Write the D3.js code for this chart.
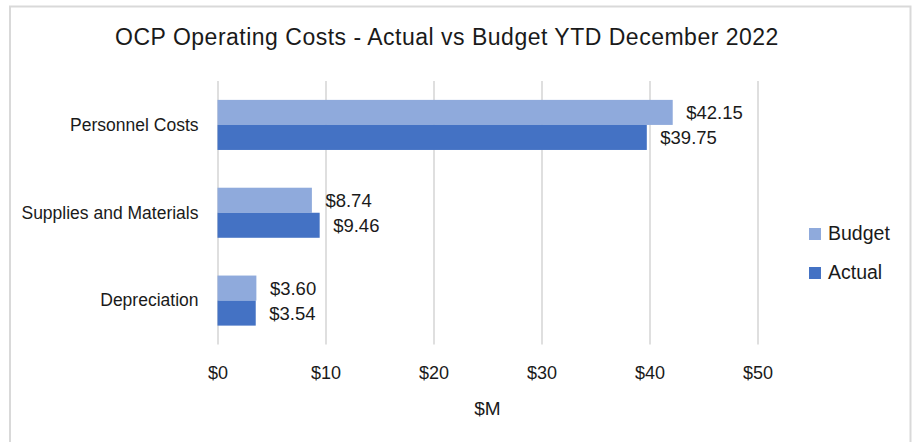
<!DOCTYPE html>
<html>
<head>
<meta charset="utf-8">
<script src="https://cdn.jsdelivr.net/npm/d3@7"></script>
<style>
	body { margin: 0; background: #fff; }
	text { font-family: "Liberation Sans", Arial, Helvetica, sans-serif; fill: #1a1a1a; }
</style>
</head>
<body>
<div id="chart"></div>
<script>
var categories = ["Personnel Costs", "Supplies and Materials", "Depreciation"];
var series = ["Budget", "Actual"];
var budget = [42.15, 8.74, 3.60];
var actual = [39.75, 9.46, 3.54];
var ticks = [0, 10, 20, 30, 40, 50];
var colors = ["#8faadc", "#4472c4"];

var W = 915, H = 442;
var margin = {left: 217.5, right: 157.5, top: 81, bottom: 97.5};
var width = W - margin.left - margin.right,
	height = H - margin.top - margin.bottom;

var svg = d3.select("#chart")
	.append("svg")
	.attr("width", W)
	.attr("height", H)
;

/*
	Outer frame (no bottom edge in the reference)
*/
svg.append("path")
	.attr("d", "M10,442V6.5H910.5V442")
	.attr("fill", "none")
	.attr("stroke", "#d9d9d9")
	.attr("stroke-width", 2)
;

svg.append("text")
	.attr("x", 447)
	.attr("y", 45)
	.attr("text-anchor", "middle")
	.style("font-size", "23px")
	.style("letter-spacing", "0.5px")
	.text("OCP Operating Costs - Actual vs Budget YTD December 2022")
;

var xScale = d3.scaleLinear()
	.domain([0, 50])
	.range([0, width])
;

var yScale = d3.scaleBand()
	.domain(categories)
	.range([0, height])
	.paddingInner(0.43)
	.paddingOuter(0.215)
;

var inner = d3.scaleBand()
	.domain(series)
	.range([0, yScale.bandwidth()])
;

var plot = svg.append("g")
	.attr("transform", "translate(" + margin.left + "," + margin.top + ")")
;

var xAxis = plot.append("g")
	.attr("transform", "translate(0," + height + ")")
	.call(d3.axisBottom(xScale)
		.tickValues(ticks)
		.tickSize(-height)
		.tickPadding(22)
		.tickFormat(function(d) { return "$" + d; }))
;
xAxis.select(".domain").remove();
xAxis.selectAll("line")
	.attr("stroke", "#dcdcdc")
	.attr("stroke-width", 1.8)
;
xAxis.selectAll("text")
	.attr("fill", "#1a1a1a")
	.style("font-size", "18px")
	.style("font-family", "'Liberation Sans', Arial, sans-serif")
;

var rows = categories.map(function(c, i) {
	return {cat: c, values: [{s: "Budget", v: budget[i]}, {s: "Actual", v: actual[i]}]};
});

var groups = plot.selectAll("g.cat")
	.data(rows)
	.enter()
	.append("g")
	.attr("class", "cat")
	.attr("transform", function(d) { return "translate(0," + yScale(d.cat) + ")"; })
;

groups.selectAll("rect")
	.data(function(d) { return d.values; })
	.enter()
	.append("rect")
	.attr("x", 0)
	.attr("y", function(d) { return inner(d.s); })
	.attr("width", function(d) { return xScale(d.v); })
	.attr("height", inner.bandwidth())
	.attr("fill", function(d, i) { return colors[i]; })
;

groups.selectAll("text.val")
	.data(function(d) { return d.values; })
	.enter()
	.append("text")
	.attr("class", "val")
	.attr("x", function(d) { return xScale(d.v) + 13.5; })
	.attr("y", function(d) { return inner(d.s) + inner.bandwidth() / 2; })
	.attr("dy", "0.36em")
	.style("font-size", "18.5px")
	.text(function(d) { return "$" + d.v.toFixed(2); })
;

/*
	Category labels
*/
plot.selectAll("text.cat")
	.data(categories)
	.enter()
	.append("text")
	.attr("class", "cat")
	.attr("x", -19)
	.attr("y", function(d) { return yScale(d) + yScale.bandwidth() / 2; })
	.attr("dy", "0.33em")
	.attr("text-anchor", "end")
	.style("font-size", "17.5px")
	.text(function(d) { return d; })
;

svg.append("text")
	.attr("x", margin.left + width / 2)
	.attr("y", 415)
	.attr("text-anchor", "middle")
	.style("font-size", "19px")
	.text("$M")
;

/*
	Legend
*/
var legend = svg.selectAll("g.legend")
	.data(series)
	.enter()
	.append("g")
	.attr("class", "legend")
	.attr("transform", function(d, i) { return "translate(809," + (228 + i * 39) + ")"; })
;
legend.append("rect")
	.attr("width", 12)
	.attr("height", 12)
	.attr("fill", function(d, i) { return colors[i]; })
;
legend.append("text")
	.attr("x", 19)
	.attr("y", 5)
	.attr("dy", "0.36em")
	.style("font-size", "19.5px")
	.text(function(d) { return d; })
;
</script>
</body>
</html>
